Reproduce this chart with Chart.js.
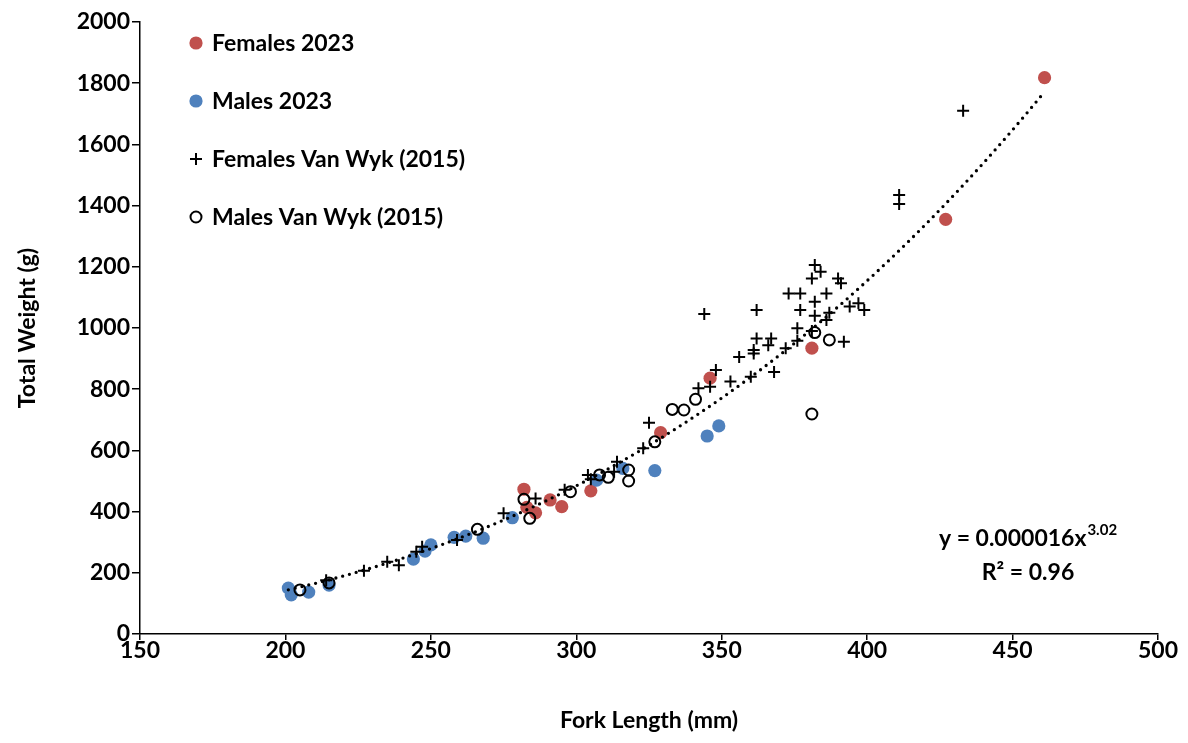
<!DOCTYPE html>
<html>
<head>
<meta charset="utf-8">
<script src="https://cdn.jsdelivr.net/npm/chart.js@4.4.1/dist/chart.umd.min.js"></script>
<style>
  html, body { margin: 0; padding: 0; background: #ffffff; }
  canvas { display: block; }
</style>
</head>
<body>
<canvas id="chart" width="1188" height="743"></canvas>
<script>
// Axis ticks
const X_TICKS = [150, 200, 250, 300, 350, 400, 450, 500];
const Y_TICKS = [0, 200, 400, 600, 800, 1000, 1200, 1400, 1600, 1800, 2000];

// Series names
const SERIES_NAMES = ['Females 2023', 'Males 2023', 'Females Van Wyk (2015)', 'Males Van Wyk (2015)'];

// Females 2023: fork length (mm) and total weight (g)
const femLen2023 = [461, 427, 381, 346, 329, 305, 295, 291, 282, 283, 286];
const femWt2023  = [1818, 1355, 934, 836, 658, 468, 416, 438, 473, 414, 396];

// Males 2023
const maleLen2023 = [201, 202, 208, 215, 244, 248, 250, 258, 262, 268, 278, 307, 316, 327, 345, 349];
const maleWt2023  = [150, 128, 137, 160, 245, 271, 291, 316, 320, 313, 380, 503, 541, 534, 647, 680];

// Females Van Wyk (2015)
const femLenVW = [214, 227, 235, 239, 245, 247, 259, 275, 286, 296, 304, 305, 313, 314, 323, 325,
                  342, 346, 348, 353, 356, 360, 361, 361, 362, 362, 344, 366, 367, 368, 372, 373,
                  377, 376, 376, 377, 381, 382, 384, 382, 382, 381, 386, 387, 386, 390, 391, 392,
                  394, 397, 399, 411, 411, 433];
const femWtVW  = [176, 207, 236, 225, 269, 285, 307, 395, 443, 471, 520, 506, 530, 563, 607, 690,
                  803, 808, 863, 825, 905, 841, 917, 928, 966, 1059, 1046, 944, 966, 856, 934, 1113,
                  1113, 999, 958, 1059, 1162, 1206, 1184, 1086, 1040, 990, 1113, 1050, 1026, 1162, 1146, 955,
                  1070, 1081, 1059, 1435, 1405, 1710];

// Males Van Wyk (2015)
const maleLenVW = [205, 215, 266, 282, 284, 298, 308, 311, 318, 318, 327, 333, 337, 341, 382, 387, 381];
const maleWtVW  = [144, 167, 342, 440, 378, 465, 520, 512, 536, 500, 628, 734, 732, 767, 985, 961, 719];

// Power trendline stated on the chart: y = 0.000016 x^3.02, R² = 0.96
const TREND_A = 0.000016;
const TREND_B = 3.02;
const TREND_R2 = '0.96';

const RED = '#C0504D';
const BLUE = '#4F81BD';
const BLACK = '#000000';
const FONT_FAMILY = 'Lato, "Open Sans", "DejaVu Sans", sans-serif';
const FONT_SIZE = 23;

function pairs(xs, ys) {
  return xs.map((x, i) => ({ x: x, y: ys[i] }));
}

const allLengths = [].concat(femLen2023, maleLen2023, femLenVW, maleLenVW);

// Dotted power-law trendline over the measured length range
const trendlinePlugin = {
  id: 'trendline',
  afterDatasetsDraw(chart) {
    const { ctx, scales: { x, y } } = chart;
    const xmin = Math.min.apply(null, allLengths);
    const xmax = Math.max.apply(null, allLengths);
    ctx.save();
    ctx.beginPath();
    const steps = 200;
    for (let i = 0; i <= steps; i++) {
      const L = xmin + (xmax - xmin) * i / steps;
      const W = TREND_A * Math.pow(L, TREND_B);
      const px = x.getPixelForValue(L);
      const py = y.getPixelForValue(W);
      if (i === 0) ctx.moveTo(px, py); else ctx.lineTo(px, py);
    }
    ctx.strokeStyle = BLACK;
    ctx.lineWidth = 3.3;
    ctx.lineCap = 'round';
    ctx.setLineDash([0, 7]);
    ctx.stroke();
    ctx.restore();
  }
};

// Legend in the upper-left of the plot area and the fit equation
const annotationPlugin = {
  id: 'legendAndEquation',
  afterDraw(chart) {
    const { ctx, chartArea } = chart;
    ctx.save();
    ctx.font = 'bold ' + FONT_SIZE + 'px ' + FONT_FAMILY;
    ctx.textBaseline = 'middle';
    ctx.textAlign = 'left';
    ctx.fillStyle = BLACK;

    const mx = chartArea.left + 56;
    const tx = chartArea.left + 72;
    const rowY = [chartArea.top + 21, chartArea.top + 79, chartArea.top + 137, chartArea.top + 195];

    // Females 2023
    ctx.beginPath(); ctx.arc(mx, rowY[0], 6.6, 0, Math.PI * 2); ctx.fillStyle = RED; ctx.fill();
    // Males 2023
    ctx.beginPath(); ctx.arc(mx, rowY[1], 6.6, 0, Math.PI * 2); ctx.fillStyle = BLUE; ctx.fill();
    // Females Van Wyk
    ctx.beginPath();
    ctx.moveTo(mx - 6, rowY[2]); ctx.lineTo(mx + 6, rowY[2]);
    ctx.moveTo(mx, rowY[2] - 6); ctx.lineTo(mx, rowY[2] + 6);
    ctx.strokeStyle = BLACK; ctx.lineWidth = 2; ctx.stroke();
    // Males Van Wyk
    ctx.beginPath(); ctx.arc(mx, rowY[3], 5.5, 0, Math.PI * 2);
    ctx.strokeStyle = BLACK; ctx.lineWidth = 2; ctx.stroke();

    ctx.fillStyle = BLACK;
    SERIES_NAMES.forEach((name, i) => ctx.fillText(name, tx, rowY[i] + 1));

    // Equation
    const eqMain = 'y = ' + TREND_A.toFixed(6) + 'x';
    const eqSup = TREND_B.toFixed(2);
    const mainW = ctx.measureText(eqMain).width;
    ctx.font = 'bold 15px ' + FONT_FAMILY;
    const supW = ctx.measureText(eqSup).width;
    const cx = chartArea.right - 130;
    const eqY = chartArea.top + 517;
    const startX = cx - (mainW + supW + 1) / 2;
    ctx.font = 'bold ' + FONT_SIZE + 'px ' + FONT_FAMILY;
    ctx.fillText(eqMain, startX, eqY);
    ctx.font = 'bold 15px ' + FONT_FAMILY;
    ctx.fillText(eqSup, startX + mainW + 1, eqY - 9);
    ctx.font = 'bold ' + FONT_SIZE + 'px ' + FONT_FAMILY;
    ctx.textAlign = 'center';
    ctx.fillText('R\u00B2 = ' + TREND_R2, cx, eqY + 34);
    ctx.restore();
  }
};

const tickFont = { family: FONT_FAMILY, size: FONT_SIZE, weight: 'bold' };

new Chart(document.getElementById('chart'), {
  type: 'scatter',
  data: {
    datasets: [
      {
        label: SERIES_NAMES[0], data: pairs(femLen2023, femWt2023),
        pointStyle: 'circle', pointRadius: 6.6, backgroundColor: RED, borderWidth: 0, order: 4
      },
      {
        label: SERIES_NAMES[1], data: pairs(maleLen2023, maleWt2023),
        pointStyle: 'circle', pointRadius: 6.6, backgroundColor: BLUE, borderWidth: 0, order: 3
      },
      {
        label: SERIES_NAMES[2], data: pairs(femLenVW, femWtVW),
        pointStyle: 'cross', pointRadius: 6, borderColor: BLACK, backgroundColor: BLACK, borderWidth: 2, order: 2
      },
      {
        label: SERIES_NAMES[3], data: pairs(maleLenVW, maleWtVW),
        pointStyle: 'circle', pointRadius: 5.5, borderColor: BLACK, backgroundColor: 'rgba(0,0,0,0)', borderWidth: 2, order: 1
      }
    ]
  },
  options: {
    responsive: false,
    animation: false,
    events: [],
    layout: { padding: { top: 22, right: 30, bottom: 0, left: 0 } },
    plugins: { legend: { display: false }, tooltip: { enabled: false } },
    scales: {
      x: {
        type: 'linear',
        min: X_TICKS[0], max: X_TICKS[X_TICKS.length - 1],
        afterBuildTicks: (s) => { s.ticks = X_TICKS.map(v => ({ value: v })); },
        afterFit: (s) => { s.height = 109; },
        ticks: { font: tickFont, color: BLACK, padding: -3, callback: (v) => String(v), maxRotation: 0 },
        grid: { display: true, drawOnChartArea: false, drawTicks: true, tickLength: 6, color: BLACK, lineWidth: 1.5 },
        border: { display: true, color: BLACK, width: 1.5 },
        title: { display: true, text: 'Fork Length (mm)', color: BLACK, font: tickFont, padding: { top: 0, bottom: 9 } }
      },
      y: {
        type: 'linear',
        min: Y_TICKS[0], max: Y_TICKS[Y_TICKS.length - 1],
        afterBuildTicks: (s) => { s.ticks = Y_TICKS.map(v => ({ value: v })); },
        afterFit: (s) => { s.width = 140; },
        ticks: { font: tickFont, color: BLACK, padding: 2, callback: (v) => String(v) },
        grid: { display: true, drawOnChartArea: false, drawTicks: true, tickLength: 8, color: BLACK, lineWidth: 1.5 },
        border: { display: true, color: BLACK, width: 1.5 },
        title: { display: true, text: 'Total Weight (g)', color: BLACK, font: tickFont, padding: { top: 14, bottom: 0 } }
      }
    }
  },
  plugins: [trendlinePlugin, annotationPlugin]
});
</script>
</body>
</html>
